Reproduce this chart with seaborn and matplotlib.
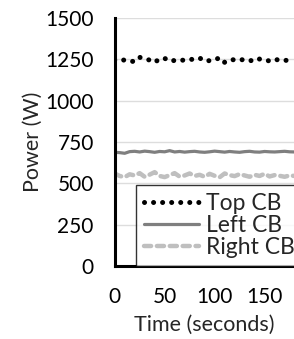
import matplotlib
matplotlib.use("Agg")
import matplotlib.pyplot as plt
import seaborn as sns

# time axis (seconds) and power readings (W)
time_s = list(range(0, 181, 5))
top_cb = [1245, 1248, 1245, 1240, 1236, 1262, 1255, 1245, 1232, 1252, 1256, 1240,
          1243, 1246, 1244, 1248, 1252, 1258, 1240, 1242, 1246, 1260, 1232, 1246,
          1248, 1245, 1250, 1244, 1238, 1252, 1246, 1240, 1250, 1245, 1242, 1248, 1246]
left_cb = [688, 686, 682, 692, 694, 690, 695, 692, 688, 693, 691, 698, 690, 693,
           689, 692, 694, 690, 688, 691, 695, 692, 689, 693, 690, 688, 692, 694,
           690, 689, 693, 691, 690, 692, 694, 691, 690]
right_cb = [560, 545, 538, 555, 548, 562, 540, 553, 568, 545, 538, 550, 562, 541,
            548, 560, 545, 552, 540, 558, 546, 537, 560, 550, 544, 556, 548, 540,
            552, 545, 558, 542, 550, 546, 540, 548, 545]
y_ticks = [0, 250, 500, 750, 1000, 1250, 1500]
x_ticks = [0, 50, 100, 150]

sns.set_style("white")
plt.rcParams['font.family'] = ['Lato', 'DejaVu Sans']

fig = plt.figure(figsize=(2.94, 3.39), dpi=100)
ax = fig.add_axes([0.39, 0.215, 0.612, 0.732])

sns.lineplot(x=time_s, y=top_cb, ax=ax, color='black', linewidth=3.6,
             linestyle=(0, (0.01, 1.8)), dash_capstyle='round', label='Top CB')
sns.lineplot(x=time_s, y=left_cb, ax=ax, color='#7f7f7f', linewidth=2.3,
             label='Left CB')
sns.lineplot(x=time_s, y=right_cb, ax=ax, color='#bfbfbf', linewidth=3.2,
             linestyle=(0, (1.6, 1.3)), dash_capstyle='round', label='Right CB')

ax.set_xlim(0, 180)
ax.set_ylim(0, 1500)
ax.set_xticks(x_ticks)
ax.set_yticks(y_ticks)
ax.yaxis.grid(True, color='#dddddd', linewidth=1)
for side in ['top', 'right']:
    ax.spines[side].set_visible(False)
for side in ['left', 'bottom']:
    ax.spines[side].set_color('black')
    ax.spines[side].set_linewidth(2.2)
ax.tick_params(direction='inout', length=12, width=1.5, labelsize=15, pad=9,
               colors='black')
ax.set_xlabel('Time (seconds)', fontsize=15.5, labelpad=6)
ax.set_ylabel('Power (W)', fontsize=15.5, labelpad=2)

leg = ax.legend(loc='lower left', bbox_to_anchor=(0.117, 0.0), fontsize=16.5,
                handlelength=2.4, handletextpad=0.3, labelspacing=0.05,
                borderpad=0.35, borderaxespad=0, frameon=True, fancybox=False)
leg.get_frame().set_edgecolor('black')
leg.get_frame().set_linewidth(1)
leg.set_zorder(5)

fig.savefig('out.png', dpi=100)
